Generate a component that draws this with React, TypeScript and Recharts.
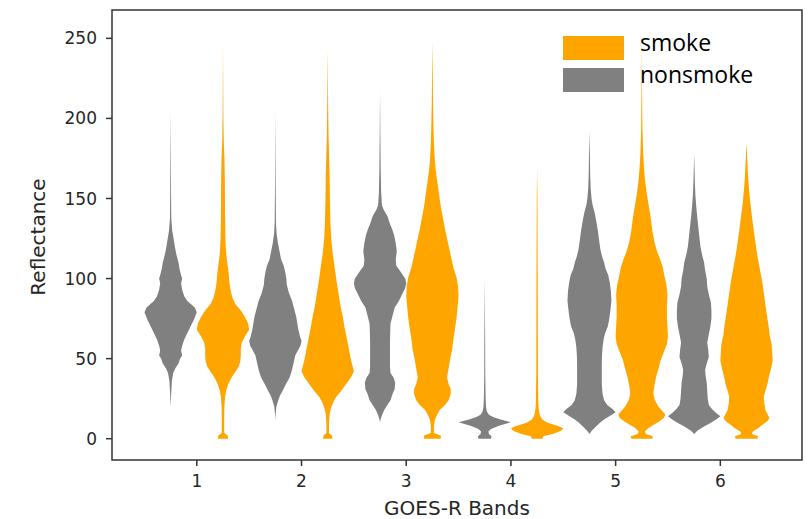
import { ComposedChart, Area, XAxis, YAxis, ReferenceArea } from 'recharts';

// GOES-R band positions and axis ticks
const BANDS = [1, 2, 3, 4, 5, 6];
const Y_TICKS = [0, 50, 100, 150, 200, 250];
const LEGEND = ['smoke', 'nonsmoke'];

// violin profiles: [reflectance, half width in band units]
const BAND1_NONSMOKE: [number, number][] = [
  [20, 0], [28, 0.005], [36, 0.012], [41, 0.025], [44, 0.045], [47, 0.075], [50, 0.09], [52, 0.11], [55, 0.1],
  [58, 0.11], [62, 0.13], [66, 0.16], [70, 0.19], [74, 0.22], [79, 0.25], [82, 0.23], [86, 0.16], [89, 0.13],
  [93, 0.11], [97, 0.1], [100, 0.11], [102, 0.1], [106, 0.085], [110, 0.075], [115, 0.055], [120, 0.04],
  [125, 0.028], [130, 0.015], [138, 0.006], [155, 0.004], [180, 0.002], [205, 0],
];
const BAND1_SMOKE: [number, number][] = [
  [0, 0.05], [2, 0.045], [3.5, 0.012], [10, 0.011], [20, 0.013], [26, 0.02], [30, 0.03], [34, 0.05], [38, 0.08],
  [42, 0.12], [45, 0.15], [48, 0.165], [52, 0.17], [56, 0.17], [60, 0.18], [64, 0.21], [68, 0.25], [72, 0.24],
  [76, 0.21], [80, 0.17], [84, 0.12], [88, 0.09], [93, 0.072], [98, 0.06], [103, 0.055], [108, 0.045],
  [113, 0.035], [118, 0.028], [125, 0.023], [140, 0.02], [160, 0.018], [175, 0.014], [185, 0.008], [200, 0.004],
  [245, 0],
];
const BAND2_NONSMOKE: [number, number][] = [
  [12, 0], [16, 0.004], [20, 0.01], [24, 0.028], [27, 0.045], [30, 0.07], [34, 0.1], [38, 0.135], [42, 0.155],
  [46, 0.17], [49, 0.18], [52, 0.19], [55, 0.215], [58, 0.24], [61, 0.25], [64, 0.235], [68, 0.22], [72, 0.21],
  [76, 0.2], [81, 0.18], [86, 0.16], [91, 0.13], [96, 0.11], [100, 0.105], [104, 0.095], [108, 0.08],
  [112, 0.055], [117, 0.04], [122, 0.025], [128, 0.012], [135, 0.006], [160, 0.003], [205, 0],
];
const BAND2_SMOKE: [number, number][] = [
  [0, 0.045], [2, 0.04], [3.5, 0.012], [10, 0.013], [15, 0.018], [19, 0.03], [23, 0.055], [26, 0.08], [30, 0.13],
  [34, 0.175], [38, 0.22], [42, 0.25], [46, 0.235], [50, 0.22], [55, 0.205], [60, 0.19], [65, 0.175], [70, 0.16],
  [76, 0.145], [82, 0.125], [88, 0.11], [96, 0.09], [103, 0.075], [110, 0.06], [117, 0.045], [125, 0.034],
  [135, 0.026], [150, 0.021], [165, 0.018], [175, 0.014], [190, 0.008], [210, 0.004], [243, 0],
];
const BAND3_NONSMOKE: [number, number][] = [
  [10, 0], [12, 0.005], [15, 0.02], [18, 0.04], [21, 0.07], [24, 0.1], [28, 0.12], [31, 0.14], [35, 0.145],
  [38, 0.13], [41, 0.1], [45, 0.095], [50, 0.095], [60, 0.095], [66, 0.097], [72, 0.1], [77, 0.12], [82, 0.14],
  [86, 0.18], [90, 0.21], [94, 0.24], [97, 0.25], [100, 0.24], [104, 0.2], [108, 0.155], [112, 0.15],
  [117, 0.16], [122, 0.15], [127, 0.135], [131, 0.115], [135, 0.09], [139, 0.07], [143, 0.035], [146, 0.018],
  [155, 0.01], [170, 0.006], [190, 0.003], [217, 0],
];
const BAND3_SMOKE: [number, number][] = [
  [0, 0.08], [2, 0.08], [3.5, 0.015], [8, 0.014], [12, 0.025], [15, 0.045], [18, 0.07], [21, 0.12], [24, 0.155],
  [28, 0.175], [31, 0.175], [34, 0.155], [38, 0.14], [44, 0.155], [50, 0.17], [56, 0.19], [62, 0.2], [68, 0.215],
  [75, 0.23], [82, 0.24], [89, 0.25], [95, 0.245], [101, 0.23], [107, 0.2], [113, 0.18], [119, 0.16], [125, 0.14],
  [131, 0.12], [138, 0.1], [145, 0.08], [152, 0.065], [159, 0.05], [166, 0.035], [173, 0.024], [180, 0.018],
  [190, 0.012], [210, 0.006], [230, 0.003], [248, 0],
];
const BAND4_NONSMOKE: [number, number][] = [
  [0, 0.06], [1.5, 0.065], [3, 0.04], [4.5, 0.035], [6, 0.06], [8, 0.13], [10.3, 0.25], [12, 0.15], [13.5, 0.08],
  [15, 0.04], [17, 0.02], [20, 0.012], [26, 0.008], [40, 0.005], [60, 0.004], [80, 0.002], [100, 0],
];
const BAND4_SMOKE: [number, number][] = [
  [0, 0.05], [1.5, 0.06], [3, 0.15], [5, 0.23], [6.5, 0.25], [8, 0.2], [10, 0.1], [12, 0.05], [14, 0.03],
  [17, 0.018], [22, 0.012], [40, 0.008], [70, 0.007], [100, 0.006], [130, 0.004], [150, 0.003], [170, 0],
];
const BAND5_NONSMOKE: [number, number][] = [
  [3, 0], [5, 0.022], [7.5, 0.06], [10, 0.1], [12, 0.14], [14, 0.19], [16.5, 0.25], [18.5, 0.22], [21, 0.17],
  [24, 0.14], [28, 0.125], [34, 0.118], [40, 0.118], [46, 0.118], [52, 0.12], [57, 0.125], [62, 0.135],
  [66, 0.15], [70, 0.175], [75, 0.19], [80, 0.2], [86, 0.21], [92, 0.205], [97, 0.195], [102, 0.18],
  [106, 0.155], [110, 0.14], [114, 0.12], [118, 0.105], [124, 0.092], [130, 0.08], [136, 0.065], [141, 0.05],
  [146, 0.03], [150, 0.02], [156, 0.012], [165, 0.007], [178, 0.004], [192, 0],
];
const BAND5_SMOKE: [number, number][] = [
  [0, 0.1], [1.5, 0.105], [3, 0.04], [4.5, 0.03], [6.5, 0.06], [8.5, 0.11], [10.5, 0.16], [13, 0.21], [15, 0.225],
  [17, 0.2], [20, 0.16], [24, 0.125], [28, 0.11], [33, 0.12], [38, 0.135], [44, 0.16], [49, 0.18], [54, 0.21],
  [59, 0.24], [64, 0.25], [70, 0.245], [76, 0.24], [83, 0.24], [90, 0.245], [96, 0.235], [102, 0.215],
  [107, 0.2], [112, 0.175], [117, 0.145], [123, 0.12], [130, 0.1], [138, 0.085], [146, 0.065], [154, 0.045],
  [162, 0.03], [170, 0.02], [180, 0.012], [195, 0.006], [215, 0.003], [245, 0],
];
const BAND6_NONSMOKE: [number, number][] = [
  [3, 0], [5, 0.03], [7.5, 0.09], [10, 0.16], [12, 0.21], [14, 0.25], [16, 0.21], [18.5, 0.17], [21, 0.14],
  [25, 0.13], [30, 0.125], [35, 0.12], [39, 0.11], [43, 0.105], [47, 0.12], [51, 0.14], [55, 0.135],
  [60, 0.125], [65, 0.14], [70, 0.155], [75, 0.165], [80, 0.165], [85, 0.16], [90, 0.14], [95, 0.125],
  [100, 0.12], [105, 0.105], [110, 0.095], [115, 0.075], [120, 0.06], [126, 0.05], [132, 0.04], [138, 0.03],
  [145, 0.02], [152, 0.012], [160, 0.007], [170, 0.003], [178, 0],
];
const BAND6_SMOKE: [number, number][] = [
  [0, 0.105], [1.5, 0.11], [3, 0.05], [4.5, 0.06], [6.5, 0.11], [8.5, 0.15], [11, 0.2], [13, 0.22], [15.5, 0.2],
  [18, 0.18], [22, 0.17], [26, 0.165], [30, 0.18], [34, 0.2], [39, 0.215], [44, 0.235], [49, 0.25], [54, 0.245],
  [59, 0.24], [65, 0.22], [71, 0.21], [77, 0.195], [84, 0.18], [91, 0.165], [98, 0.15], [105, 0.13], [112, 0.11],
  [118, 0.095], [125, 0.08], [132, 0.065], [140, 0.05], [148, 0.035], [156, 0.024], [165, 0.014], [175, 0.007],
  [185, 0],
];

const NONSMOKE = [BAND1_NONSMOKE, BAND2_NONSMOKE, BAND3_NONSMOKE, BAND4_NONSMOKE, BAND5_NONSMOKE, BAND6_NONSMOKE];
const SMOKE = [BAND1_SMOKE, BAND2_SMOKE, BAND3_SMOKE, BAND4_SMOKE, BAND5_SMOKE, BAND6_SMOKE];

const COLORS: Record<string, string> = { smoke: '#FFA500', nonsmoke: '#808080' };
const OFFSET = 0.25;
const X_DOMAIN: [number, number] = [0.19, 6.78];
const Y_DOMAIN: [number, number] = [-13.3, 267.7];

const toRows = (profile: [number, number][], center: number) =>
  profile.map(([v, w]) => ({ reflectance: v, span: [center - w, center + w] }));

const tickStyle = { fontSize: 17, fontFamily: 'DejaVu Sans', fill: '#262626' };
const labelStyle = { fontSize: 20, fontFamily: 'DejaVu Sans', fill: '#262626' };

export default function App() {
  return (
    <div style={{ position: 'absolute', left: 0, top: 0, width: 810, height: 519, background: '#fff' }}>
      <ComposedChart
        width={810}
        height={519}
        layout="vertical"
        margin={{ top: 10, right: 8, bottom: 0, left: 0 }}
      >
        <XAxis
          type="number"
          domain={X_DOMAIN}
          allowDataOverflow
          ticks={BANDS}
          height={59}
          axisLine={false}
          tickSize={6}
          tickMargin={9}
          tickLine={{ stroke: '#333', strokeWidth: 1.5 }}
          tick={tickStyle}
          label={{
            content: ({ viewBox }: any) => (
              <text x={viewBox.x + viewBox.width / 2} y={viewBox.y + 55} textAnchor="middle" {...labelStyle}>
                GOES-R Bands
              </text>
            ),
          }}
        />
        <YAxis
          type="number"
          dataKey="reflectance"
          domain={Y_DOMAIN}
          reversed
          allowDataOverflow
          ticks={Y_TICKS}
          width={112}
          axisLine={false}
          tickSize={6}
          tickMargin={9}
          tickLine={{ stroke: '#333', strokeWidth: 1.5 }}
          tick={tickStyle}
          label={{
            content: ({ viewBox }: any) => {
              const cx = viewBox.x + 45;
              const cy = viewBox.y + viewBox.height / 2 + 2;
              return (
                <text x={cx} y={cy} textAnchor="middle" transform={`rotate(-90 ${cx} ${cy})`} {...labelStyle}>
                  Reflectance
                </text>
              );
            },
          }}
        />
        {BANDS.map((b, i) => (
          <Area
            key={`nonsmoke-${b}`}
            data={toRows(NONSMOKE[i], b - OFFSET)}
            dataKey="span"
            type="linear"
            stroke="none"
            fill={COLORS.nonsmoke}
            fillOpacity={1}
            dot={false}
            activeDot={false}
            isAnimationActive={false}
          />
        ))}
        {BANDS.map((b, i) => (
          <Area
            key={`smoke-${b}`}
            data={toRows(SMOKE[i], b + OFFSET)}
            dataKey="span"
            type="linear"
            stroke="none"
            fill={COLORS.smoke}
            fillOpacity={1}
            dot={false}
            activeDot={false}
            isAnimationActive={false}
          />
        ))}
        <ReferenceArea
          x1={X_DOMAIN[0]}
          x2={X_DOMAIN[1]}
          y1={Y_DOMAIN[0]}
          y2={Y_DOMAIN[1]}
          fill="none"
          fillOpacity={0}
          stroke="#333"
          strokeWidth={1.5}
          strokeOpacity={1}
        />
      </ComposedChart>
      <svg width={240} height={100} style={{ position: 'absolute', left: 560, top: 12, overflow: 'visible' }}>
        {LEGEND.map((name, i) => (
          <g key={name}>
            <rect x={3} y={24 + i * 32} width={61} height={24} fill={COLORS[name]} />
            <text x={80} y={39 + i * 32} fontSize={23} fontFamily="Open Sans" fill="#000">
              {name}
            </text>
          </g>
        ))}
      </svg>
    </div>
  );
}
